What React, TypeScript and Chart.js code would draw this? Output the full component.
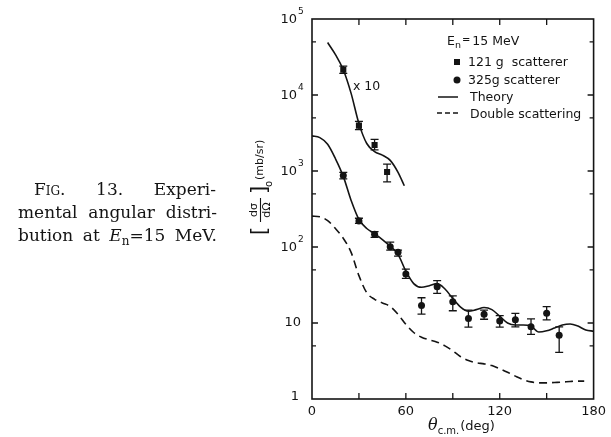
import React, { useEffect, useRef } from "react";
import { Chart, registerables } from "chart.js";

Chart.register(...registerables);

// Theory, 325 g normalisation (mb/sr vs c.m. angle in degrees)
const theoryAngles = [0, 5, 10, 15, 20, 25, 30, 35, 40, 45, 50, 55, 60, 65, 70, 75, 80, 85, 90, 95, 100, 105, 110, 115, 120, 125, 130, 135, 140, 145, 150, 155, 160, 165, 170, 175, 180];
const theoryValues = [2900, 2750, 2250, 1450, 850, 410, 230, 175, 150, 125, 102, 80, 48, 33, 29.5, 31, 33, 28, 21, 16.2, 14.3, 15, 16, 15, 12.3, 10, 9.4, 9.4, 9.1, 7.6, 7.9, 8.6, 9.4, 9.7, 9.1, 8.1, 7.8];

// Theory for the 121 g data, plotted x 10
const theoryX10Angles = [10, 15, 20, 25, 30, 35, 40, 45, 50, 55, 59];
const theoryX10Values = [49000, 34000, 21500, 10500, 4200, 2300, 1800, 1620, 1380, 960, 640];

// Double-scattering estimate
const doubleAngles = [0, 5, 10, 15, 20, 25, 30, 35, 40, 45, 50, 55, 60, 65, 70, 75, 80, 85, 90, 95, 100, 105, 110, 115, 120, 125, 130, 135, 140, 145, 150, 155, 160, 165, 170, 174];
const doubleValues = [255, 250, 222, 175, 130, 85, 42, 25, 20.5, 18.3, 16.5, 13, 9.6, 7.5, 6.5, 6, 5.6, 5, 4.3, 3.6, 3.2, 3.0, 2.9, 2.75, 2.5, 2.25, 2.0, 1.8, 1.68, 1.63, 1.63, 1.65, 1.67, 1.7, 1.72, 1.72];

// 121 g scatterer (plotted x 10)
const angles121 = [20, 30, 40, 48];
const values121 = [21500, 3950, 2200, 970];
const errLow121 = [19200, 3500, 1900, 720];
const errHigh121 = [24000, 4500, 2600, 1230];

// 325 g scatterer
const angles325 = [20, 30, 40, 50, 55, 60, 70, 80, 90, 100, 110, 120, 130, 140, 150, 158];
const values325 = [870, 220, 147, 101, 85, 44, 17, 30, 19, 11.5, 13, 10.6, 11, 8.9, 13.4, 6.9];
const errLow325 = [790, 205, 134, 91, 76, 38.7, 13.1, 24.6, 14.5, 8.8, 11.2, 8.8, 8.9, 7.1, 11, 4.1];
const errHigh325 = [960, 239, 159, 116, 91, 51, 21.5, 36, 22.7, 14.8, 14.8, 12.5, 13.4, 11.3, 16.4, 8.9];

// Axis ticks
const xLabelTicks = [0, 60, 120, 180];
const xMarkTicks = [30, 60, 90, 120, 150];
const yDecadeExponents = [0, 1, 2, 3, 4, 5];
const yMajorMarks = [10, 100, 1000, 10000];
const yMinorMarks = [5, 50, 500, 5000, 50000];

const INK = "#141414";
const SANS = '"DejaVu Sans", sans-serif';
const SERIF = '"DejaVu Serif", serif';

const pts = (xs: number[], ys: number[]) => xs.map((x, i) => ({ x, y: ys[i] }));

function drawErrorBars(chart: any, angles: number[], lows: number[], highs: number[]) {
  const { ctx } = chart;
  const xs = chart.scales.x;
  const ys = chart.scales.y;
  ctx.save();
  ctx.strokeStyle = INK;
  ctx.lineWidth = 1.3;
  angles.forEach((a, i) => {
    const px = xs.getPixelForValue(a);
    const y1 = ys.getPixelForValue(lows[i]);
    const y2 = ys.getPixelForValue(highs[i]);
    ctx.beginPath();
    ctx.moveTo(px, y1);
    ctx.lineTo(px, y2);
    ctx.moveTo(px - 4, y1);
    ctx.lineTo(px + 4, y1);
    ctx.moveTo(px - 4, y2);
    ctx.lineTo(px + 4, y2);
    ctx.stroke();
  });
  ctx.restore();
}

const paperPlugin = {
  id: "paperFrame",
  beforeDatasetsDraw(chart: any) {
    drawErrorBars(chart, angles121, errLow121, errHigh121);
    drawErrorBars(chart, angles325, errLow325, errHigh325);
  },
  afterDraw(chart: any) {
    const { ctx, chartArea } = chart;
    const { left, right, top, bottom } = chartArea;
    const xs = chart.scales.x;
    const ys = chart.scales.y;
    ctx.save();
    ctx.strokeStyle = INK;
    ctx.fillStyle = INK;

    // frame
    ctx.lineWidth = 1.6;
    ctx.strokeRect(left, top, right - left, bottom - top);

    // inward tick marks
    ctx.lineWidth = 1.3;
    ctx.beginPath();
    xMarkTicks.forEach((a) => {
      const px = xs.getPixelForValue(a);
      ctx.moveTo(px, bottom);
      ctx.lineTo(px, bottom - 6);
      ctx.moveTo(px, top);
      ctx.lineTo(px, top + 6);
    });
    yMajorMarks.forEach((v) => {
      const py = ys.getPixelForValue(v);
      ctx.moveTo(left, py);
      ctx.lineTo(left + 6, py);
      ctx.moveTo(right, py);
      ctx.lineTo(right - 6, py);
    });
    yMinorMarks.forEach((v) => {
      const py = ys.getPixelForValue(v);
      ctx.moveTo(left, py);
      ctx.lineTo(left + 4, py);
      ctx.moveTo(right, py);
      ctx.lineTo(right - 4, py);
    });
    ctx.stroke();

    // y tick labels: 1, 10, 10^2 ... 10^5
    ctx.textBaseline = "middle";
    yDecadeExponents.forEach((e) => {
      const py = ys.getPixelForValue(Math.pow(10, e));
      ctx.font = `13px ${SANS}`;
      if (e === 0) {
        ctx.textAlign = "right";
        ctx.fillText("1", left - 13, py - 2);
      } else if (e === 1) {
        ctx.textAlign = "right";
        ctx.fillText("10", left - 11, py);
      } else {
        ctx.textAlign = "right";
        ctx.fillText("10", left - 15, py + 1);
        ctx.font = `9px ${SANS}`;
        ctx.textAlign = "left";
        ctx.fillText(String(e), left - 14, py - 7);
      }
    });

    // x axis title: theta_c.m. (deg)
    ctx.textBaseline = "alphabetic";
    ctx.textAlign = "left";
    let tx = 428;
    ctx.font = `italic 16px ${SERIF}`;
    ctx.fillText("θ", tx, 430);
    tx += ctx.measureText("θ").width;
    ctx.font = `10px ${SANS}`;
    ctx.fillText("c.m.", tx, 434);
    tx += ctx.measureText("c.m.").width + 1;
    ctx.font = `13px ${SANS}`;
    ctx.fillText("(deg)", tx, 430);

    // y axis title: [dσ/dΩ]o (mb/sr), reading upward
    ctx.save();
    ctx.translate(260, 187);
    ctx.rotate(-Math.PI / 2);
    ctx.textBaseline = "middle";
    ctx.textAlign = "center";
    ctx.font = `22px ${SANS}`;
    ctx.fillText("[", -44, 0);
    ctx.fillText("]", -3, 0);
    ctx.font = `11px ${SANS}`;
    ctx.fillText("dσ", -23, -6);
    ctx.fillText("dΩ", -23, 7);
    ctx.lineWidth = 1.1;
    ctx.beginPath();
    ctx.moveTo(-35, 0.5);
    ctx.lineTo(-11, 0.5);
    ctx.stroke();
    ctx.font = `10px ${SANS}`;
    ctx.fillText("o", 3, 9);
    ctx.font = `11px ${SANS}`;
    ctx.textAlign = "left";
    ctx.fillText("(mb/sr)", 7, 0);
    ctx.restore();

    // "x 10" beside the upper curve
    ctx.textAlign = "left";
    ctx.font = `12.5px ${SANS}`;
    ctx.fillText("x 10", 353, 90);

    // legend
    ctx.font = `12.5px ${SANS}`;
    let lx = 447;
    ctx.fillText("E", lx, 45);
    lx += ctx.measureText("E").width;
    ctx.font = `9.5px ${SANS}`;
    ctx.fillText("n", lx, 48);
    lx += ctx.measureText("n").width + 1;
    ctx.font = `10px ${SANS}`;
    ctx.fillText("=", lx, 43);
    lx += ctx.measureText("=").width + 2;
    ctx.font = `12.5px ${SANS}`;
    ctx.fillText("15 MeV", lx, 45);

    ctx.fillRect(454, 59, 6, 6);
    ctx.fillText("121 g  scatterer", 468, 66);

    ctx.beginPath();
    ctx.arc(457, 80, 3.5, 0, Math.PI * 2);
    ctx.fill();
    ctx.fillText("325g scatterer", 468, 84);

    ctx.lineWidth = 1.5;
    ctx.beginPath();
    ctx.moveTo(438, 97);
    ctx.lineTo(458, 97);
    ctx.stroke();
    ctx.fillText("Theory", 470, 101);

    ctx.setLineDash([5, 3]);
    ctx.beginPath();
    ctx.moveTo(437, 113);
    ctx.lineTo(460, 113);
    ctx.stroke();
    ctx.setLineDash([]);
    ctx.fillText("Double scattering", 470, 118);

    ctx.restore();
  },
};

export default function App() {
  const canvasRef = useRef<HTMLCanvasElement>(null);

  useEffect(() => {
    const canvas = canvasRef.current;
    if (!canvas) return;
    const curve = {
      showLine: true,
      borderColor: INK,
      borderWidth: 1.6,
      pointRadius: 0,
      cubicInterpolationMode: "monotone" as const,
      fill: false,
    };
    const chart = new Chart(canvas, {
      type: "scatter",
      data: {
        datasets: [
          { ...curve, label: "Theory", data: pts(theoryAngles, theoryValues) },
          { ...curve, label: "Theory x 10", data: pts(theoryX10Angles, theoryX10Values) },
          { ...curve, label: "Double scattering", borderDash: [8, 5], data: pts(doubleAngles, doubleValues) },
          {
            label: "121 g scatterer",
            data: pts(angles121, values121),
            showLine: false,
            pointStyle: "rect",
            pointRadius: 4.3,
            backgroundColor: INK,
            borderColor: INK,
            borderWidth: 0,
          },
          {
            label: "325g scatterer",
            data: pts(angles325, values325),
            showLine: false,
            pointStyle: "circle",
            pointRadius: 3.5,
            backgroundColor: INK,
            borderColor: INK,
            borderWidth: 0,
          },
        ],
      },
      options: {
        responsive: false,
        animation: false,
        events: [],
        layout: { padding: { left: 0, right: 13, top: 19, bottom: 0 } },
        plugins: { legend: { display: false }, tooltip: { enabled: false } },
        scales: {
          x: {
            type: "linear",
            min: 0,
            max: 180,
            grid: { display: false, drawTicks: false },
            border: { display: false },
            afterBuildTicks: (scale: any) => {
              scale.ticks = xLabelTicks.map((v) => ({ value: v }));
            },
            ticks: { color: INK, font: { family: SANS, size: 13 }, padding: 5, maxRotation: 0 },
            afterFit: (scale: any) => {
              scale.height = 38;
            },
          },
          y: {
            type: "logarithmic",
            min: 1,
            max: 100000,
            grid: { display: false, drawTicks: false },
            border: { display: false },
            ticks: { display: false },
            afterFit: (scale: any) => {
              scale.width = 312;
            },
          },
        },
      },
      plugins: [paperPlugin],
    });
    return () => chart.destroy();
  }, []);

  const lineBase: React.CSSProperties = {
    position: "absolute",
    fontFamily: SERIF,
    fontSize: 17,
    lineHeight: "22px",
    color: INK,
    textAlign: "justify",
    textAlignLast: "justify" as any,
  };

  return (
    <div style={{ position: "fixed", left: 0, top: 0, width: 611, height: 437, background: "#fff", overflow: "hidden" }}>
      <canvas ref={canvasRef} width={611} height={437} style={{ position: "absolute", left: 0, top: 0, width: 611, height: 437, display: "block" }} />
      <div style={{ ...lineBase, left: 34, top: 178, width: 182 }}>
        <span style={{ fontVariant: "small-caps" }}>Fig.</span> 13. Experi-
      </div>
      <div style={{ ...lineBase, left: 18, top: 201, width: 199 }}>mental angular distri-</div>
      <div style={{ ...lineBase, left: 18, top: 224, width: 199 }}>
        bution at <span style={{ fontStyle: "italic" }}>E</span>
        <span style={{ fontSize: 12, position: "relative", top: 4 }}>n</span>=15 MeV.
      </div>
    </div>
  );
}
